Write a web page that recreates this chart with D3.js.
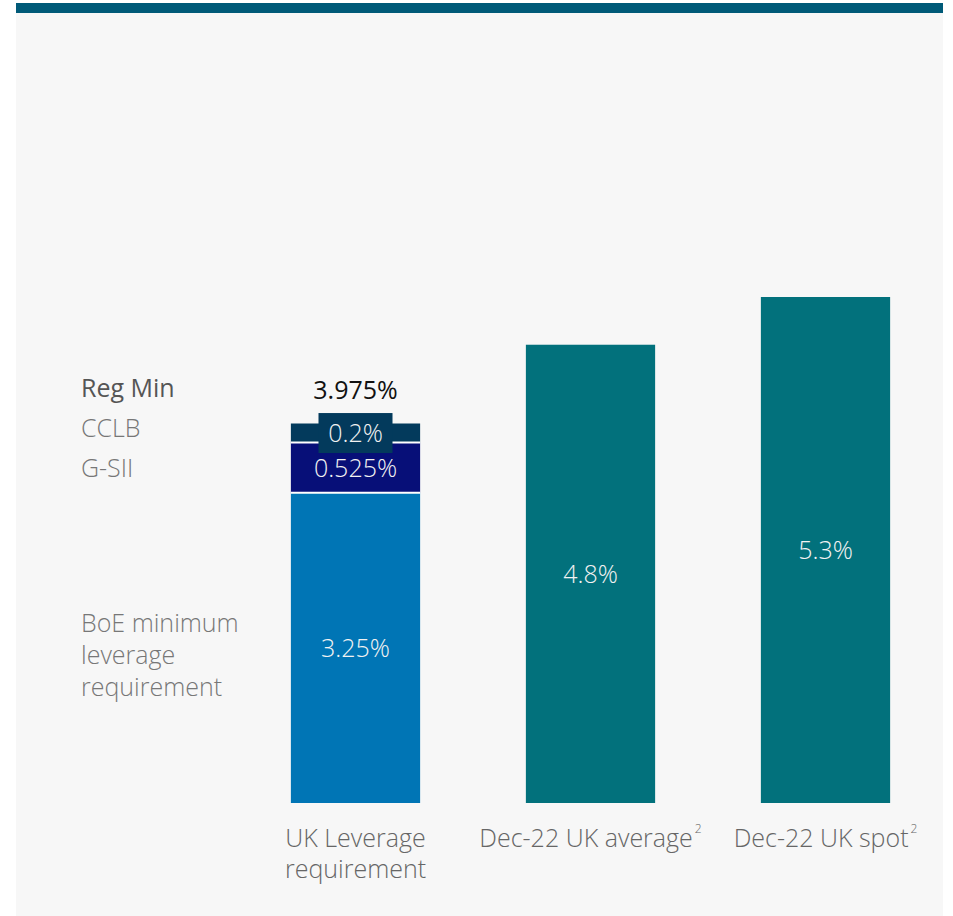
<!DOCTYPE html>
<html>
<head>
<meta charset="utf-8">
<script src="https://cdn.jsdelivr.net/npm/d3@7"></script>
<style>
  body { margin: 0; background: #fff; }
  text { font-family: "Open Sans", Lato, sans-serif; }
</style>
</head>
<body>
<svg width="953" height="916"></svg>
<script>
var svg = d3.select("svg"),
  width = +svg.attr("width"),
  height = +svg.attr("height");

// data
var categories = ["UK Leverage requirement", "Dec-22 UK average", "Dec-22 UK spot"];
var catLines = [["UK Leverage", "requirement"], ["Dec-22 UK average"], ["Dec-22 UK spot"]];
var catSup = ["", "2", "2"];
var stackKeys = ["BoE minimum leverage requirement", "G-SII", "CCLB"];
var stackValues = [3.25, 0.525, 0.2];
var stackLabels = ["3.25%", "0.525%", "0.2%"];
var stackColors = ["#0075b5", "#070f78", "#033a5c"];
var regMinLabel = "3.975%";
var actualValues = [4.8, 5.3];
var actualLabels = ["4.8%", "5.3%"];

var fs = 25;

// panel
svg.append("rect").attr("x", 16).attr("y", 3).attr("width", 927).attr("height", 913).attr("fill", "#f7f7f7");
svg.append("rect").attr("x", 16).attr("y", 3).attr("width", 927).attr("height", 10).attr("fill", "#005a78");

var x = d3.scaleBand().domain(categories).range([238, 943]).paddingInner(0.45).paddingOuter(0.225);
var y = d3.scaleLinear().domain([0, 5.3]).range([803, 297]);

// stacked bar
var cum = 0;
var stack = stackValues.map(function (v, i) {
  var s = { key: stackKeys[i], y0: cum, y1: cum + v, label: stackLabels[i], color: stackColors[i] };
  cum += v;
  return s;
});

var bx = x(categories[0]), bw = x.bandwidth();
svg.selectAll("rect.seg")
  .data(stack)
  .enter()
  .append("rect")
  .attr("class", "seg")
  .attr("x", bx)
  .attr("y", function (d) { return y(d.y1); })
  .attr("width", bw)
  .attr("height", function (d) { return y(d.y0) - y(d.y1); })
  .attr("fill", function (d) { return d.color; });

// white separators
svg.selectAll("line.sep")
  .data(stack.slice(1))
  .enter()
  .append("line")
  .attr("x1", bx).attr("x2", bx + bw)
  .attr("y1", function (d) { return y(d.y0); })
  .attr("y2", function (d) { return y(d.y0); })
  .attr("stroke", "#fff").attr("stroke-width", 2);

// box behind CCLB label
var cclb = stack[2];
var cy = (y(cclb.y0) + y(cclb.y1)) / 2;
svg.append("rect")
  .attr("x", bx + bw / 2 - 37).attr("y", cy - 20)
  .attr("width", 74).attr("height", 40)
  .attr("fill", cclb.color);

svg.selectAll("text.seglab")
  .data(stack)
  .enter()
  .append("text")
  .attr("class", "seglab")
  .attr("x", bx + bw / 2)
  .attr("y", function (d) { return (y(d.y0) + y(d.y1)) / 2; })
  .attr("dy", "0.36em")
  .attr("text-anchor", "middle")
  .attr("font-size", fs)
  .attr("font-weight", 300)
  .attr("fill", "#f2f2f2")
  .text(function (d) { return d.label; });

svg.append("text")
  .attr("x", bx + bw / 2)
  .attr("y", y(cum) - 34)
  .attr("dy", "0.36em")
  .attr("text-anchor", "middle")
  .attr("font-size", fs)
  .attr("fill", "#111")
  .text(regMinLabel);

// actual bars
var actual = actualValues.map(function (v, i) { return { cat: categories[i + 1], v: v, label: actualLabels[i] }; });
svg.selectAll("rect.act")
  .data(actual)
  .enter()
  .append("rect")
  .attr("class", "act")
  .attr("x", function (d) { return x(d.cat); })
  .attr("y", function (d) { return y(d.v); })
  .attr("width", bw)
  .attr("height", function (d) { return y(0) - y(d.v); })
  .attr("fill", "#02717c");

svg.selectAll("text.actlab")
  .data(actual)
  .enter()
  .append("text")
  .attr("x", function (d) { return x(d.cat) + bw / 2; })
  .attr("y", function (d) { return (y(0) + y(d.v)) / 2; })
  .attr("dy", "0.36em")
  .attr("text-anchor", "middle")
  .attr("font-size", fs)
  .attr("font-weight", 300)
  .attr("fill", "#f2f2f2")
  .text(function (d) { return d.label; });

// left legend labels
var lx = 81;
svg.append("text").attr("x", lx).attr("y", y(cum) - 36).attr("dy", "0.36em")
  .attr("font-size", fs).attr("fill", "#555").text("Reg Min");
svg.append("text").attr("x", lx).attr("y", y(cum) + 4).attr("dy", "0.36em")
  .attr("font-size", fs).attr("font-weight", 300).attr("fill", "#777").text("CCLB");
svg.append("text").attr("x", lx).attr("y", (y(stack[1].y0) + y(stack[1].y1)) / 2).attr("dy", "0.36em")
  .attr("font-size", fs).attr("font-weight", 300).attr("fill", "#777").text("G-SII");
var boe = svg.append("text").attr("x", lx).attr("y", (y(0) + y(stack[0].y1)) / 2 - 25)
  .attr("font-size", fs).attr("font-weight", 300).attr("fill", "#777");
["BoE minimum", "leverage", "requirement"].forEach(function (t, i) {
  boe.append("tspan").attr("x", lx).attr("dy", i === 0 ? "0.36em" : 32).text(t);
});

// category labels
categories.forEach(function (c, i) {
  var t = svg.append("text")
    .attr("x", x(c) + bw / 2)
    .attr("y", y(0) + 35)
    .attr("text-anchor", "middle")
    .attr("font-size", fs)
    .attr("font-weight", 300)
    .attr("fill", "#666");
  catLines[i].forEach(function (l, j) {
    t.append("tspan").attr("x", x(c) + bw / 2).attr("dy", j === 0 ? "0.36em" : 31).text(l);
  });
  if (catSup[i]) {
    t.append("tspan").attr("dx", 2).attr("dy", -14).attr("font-size", 12).text(catSup[i]);
  }
});
</script>
</body>
</html>
